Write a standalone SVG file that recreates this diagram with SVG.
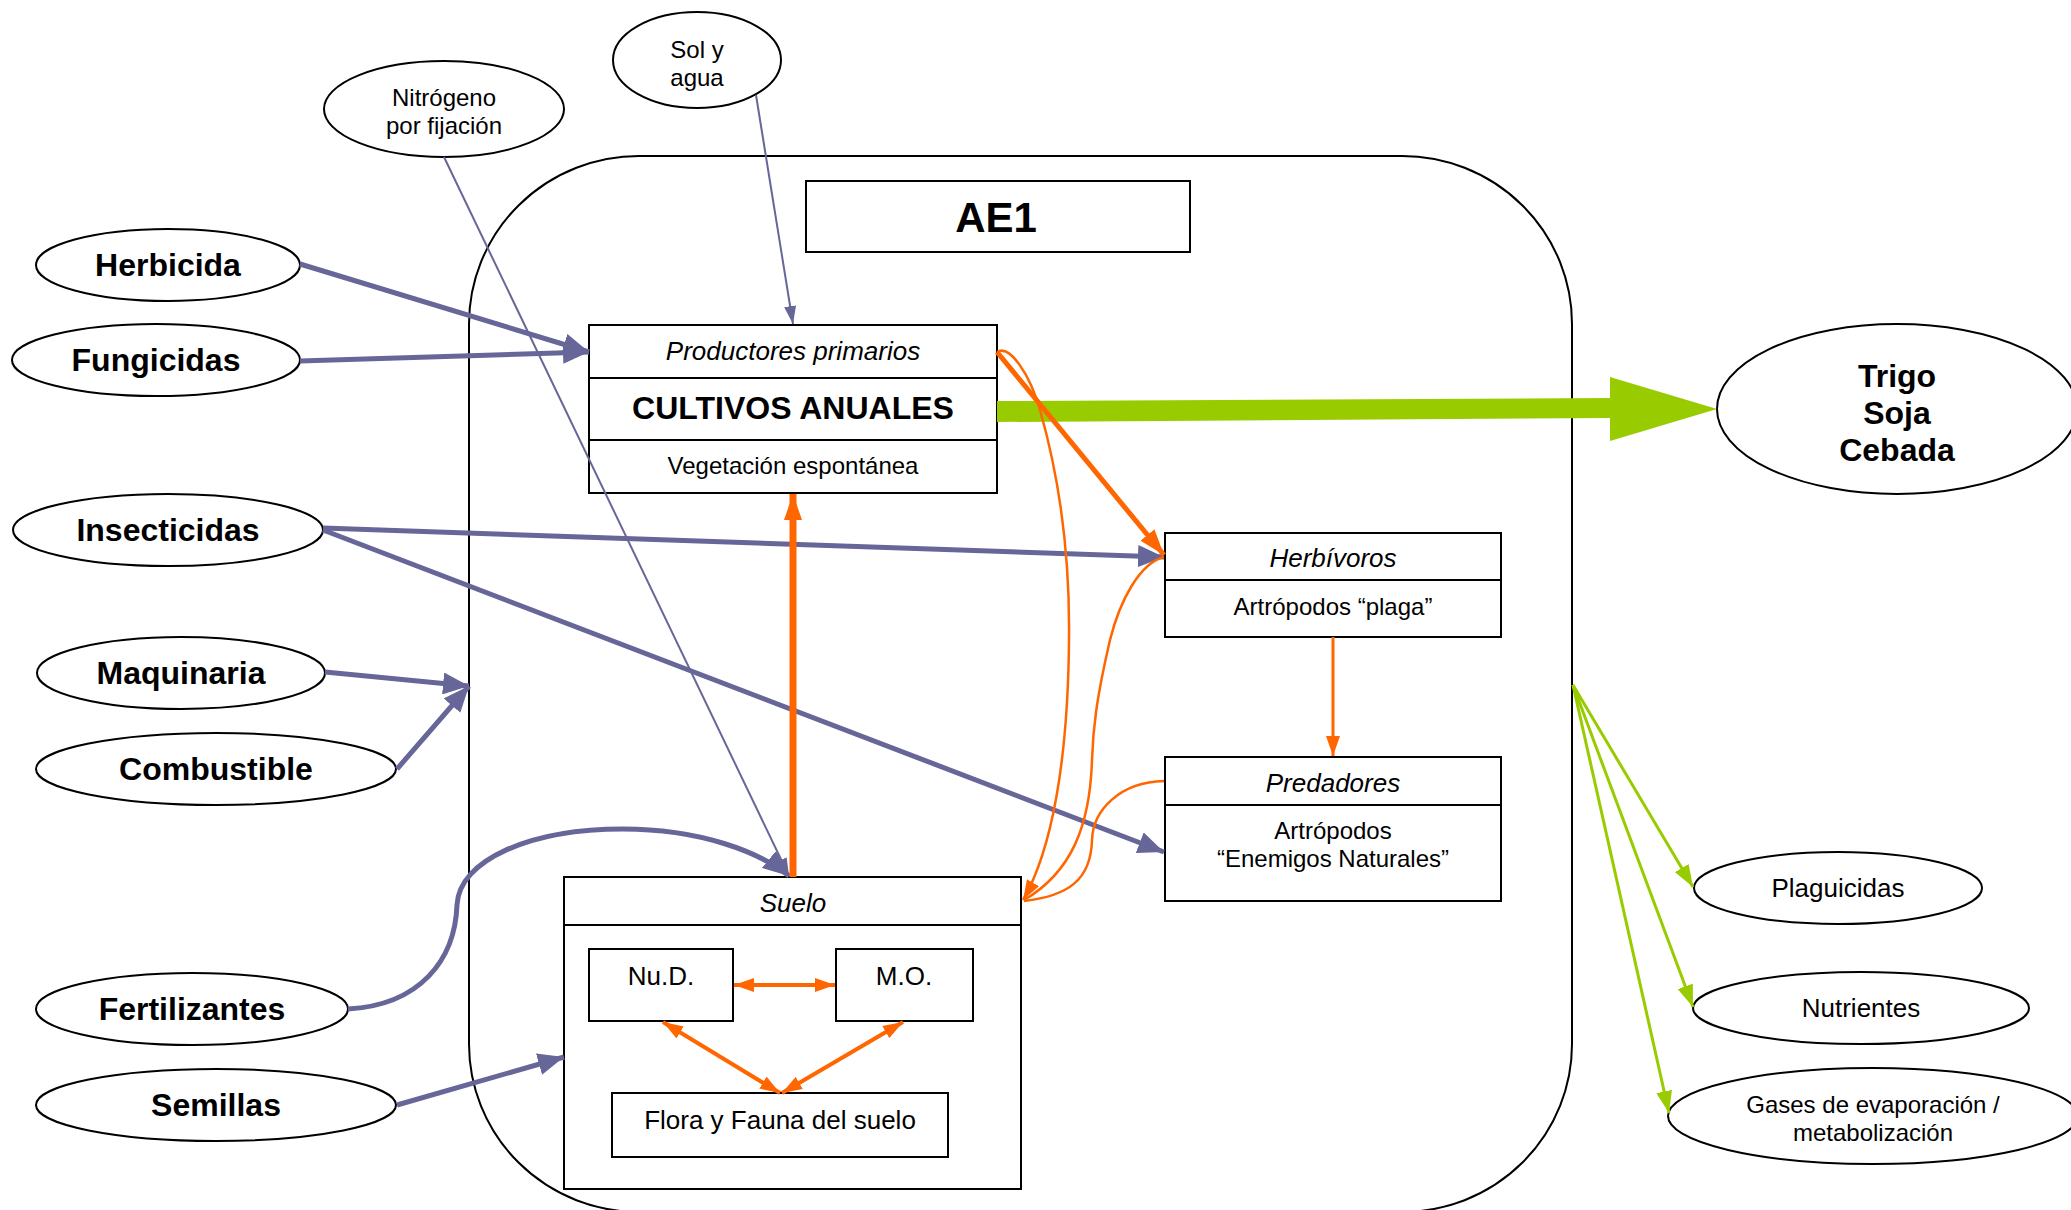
<svg xmlns="http://www.w3.org/2000/svg" width="2071" height="1210" viewBox="0 0 2071 1210">
<style>
text{font-family:"Liberation Sans",Arial,sans-serif;fill:#000;text-anchor:middle;dominant-baseline:central}
.n{fill:#fff;stroke:#000;stroke-width:2}
.b{font-weight:bold;font-size:32px}
.s{font-size:24px}
.m{font-size:26px}
.i{font-style:italic}
.p{fill:none;stroke:#666699;stroke-width:5}
.pt{fill:none;stroke:#666699;stroke-width:2}
.o{fill:none;stroke:#ff6600}
.g{fill:none;stroke:#99cc00;stroke-width:3}
</style>
<defs>
<marker id="pb" markerUnits="userSpaceOnUse" markerWidth="26" markerHeight="22" refX="26" refY="11" orient="auto"><path d="M0,0 L26,11 L0,22 z" fill="#666699"/></marker>
<marker id="ps" markerUnits="userSpaceOnUse" markerWidth="18" markerHeight="12" refX="18" refY="6" orient="auto"><path d="M0,0 L18,6 L0,12 z" fill="#666699"/></marker>
<marker id="ob" markerUnits="userSpaceOnUse" markerWidth="26" markerHeight="18" refX="26" refY="9" orient="auto-start-reverse"><path d="M0,0 L26,9 L0,18 z" fill="#ff6600"/></marker>
<marker id="os" markerUnits="userSpaceOnUse" markerWidth="20" markerHeight="14" refX="20" refY="7" orient="auto-start-reverse"><path d="M0,0 L20,7 L0,14 z" fill="#ff6600"/></marker>
<marker id="gs" markerUnits="userSpaceOnUse" markerWidth="22" markerHeight="16" refX="22" refY="8" orient="auto"><path d="M0,0 L22,8 L0,16 z" fill="#99cc00"/></marker>
</defs>
<rect width="2071" height="1210" fill="#fff"/>
<g id="ae1-system">
<rect x="469" y="156" width="1103" height="1056" rx="170" ry="168" fill="none" stroke="#000" stroke-width="2"/>
</g>
<g id="ae1-title"><rect class="n" x="806" y="181" width="384" height="71"/><text x="996" y="217" style="font-weight:bold;font-size:42px">AE1</text></g>
<g id="sol-agua"><ellipse class="n" cx="697" cy="60" rx="84" ry="48"/><text class="s" x="697" y="49">Sol y</text><text class="s" x="697" y="77">agua</text></g>
<g id="nitrogeno"><ellipse class="n" cx="444" cy="109" rx="120" ry="48"/><text class="s" x="444" y="97">Nitrógeno</text><text class="s" x="444" y="125">por fijación</text></g>
<g id="herbicida"><ellipse class="n" cx="168" cy="265" rx="132" ry="36"/><text class="b" x="168" y="265">Herbicida</text></g>
<g id="fungicidas"><ellipse class="n" cx="156" cy="360" rx="144" ry="36"/><text class="b" x="156" y="360">Fungicidas</text></g>
<g id="insecticidas"><ellipse class="n" cx="168" cy="530" rx="155" ry="36"/><text class="b" x="168" y="530">Insecticidas</text></g>
<g id="maquinaria"><ellipse class="n" cx="181" cy="673" rx="144" ry="36"/><text class="b" x="181" y="673">Maquinaria</text></g>
<g id="combustible"><ellipse class="n" cx="216" cy="769" rx="180" ry="36"/><text class="b" x="216" y="769">Combustible</text></g>
<g id="fertilizantes"><ellipse class="n" cx="192" cy="1009" rx="156" ry="36"/><text class="b" x="192" y="1009">Fertilizantes</text></g>
<g id="semillas"><ellipse class="n" cx="216" cy="1105" rx="180" ry="36"/><text class="b" x="216" y="1105">Semillas</text></g>
<g id="productores"><rect class="n" x="589" y="325" width="408" height="168"/><line x1="589" y1="378" x2="997" y2="378" stroke="#000" stroke-width="2"/><line x1="589" y1="440" x2="997" y2="440" stroke="#000" stroke-width="2"/>
<text class="m i" x="793" y="351">Productores primarios</text><text class="b" x="793" y="408">CULTIVOS ANUALES</text><text class="s" x="793" y="465">Vegetación espontánea</text></g>
<g id="herbivoros"><rect class="n" x="1165" y="533" width="336" height="104"/><line x1="1165" y1="580" x2="1501" y2="580" stroke="#000" stroke-width="2"/>
<text class="m i" x="1333" y="558">Herbívoros</text><text class="s" x="1333" y="606">Artrópodos “plaga”</text></g>
<g id="predadores"><rect class="n" x="1165" y="757" width="336" height="144"/><line x1="1165" y1="805" x2="1501" y2="805" stroke="#000" stroke-width="2"/>
<text class="m i" x="1333" y="783">Predadores</text><text class="s" x="1333" y="830">Artrópodos</text><text class="s" x="1333" y="858">“Enemigos Naturales”</text></g>
<g id="suelo"><rect class="n" x="564" y="877" width="457" height="312"/><line x1="564" y1="925" x2="1021" y2="925" stroke="#000" stroke-width="2"/><text class="m i" x="793" y="903">Suelo</text></g>
<g id="nud"><rect class="n" x="589" y="949" width="144" height="72"/><text class="m" x="661" y="976">Nu.D.</text></g>
<g id="mo"><rect class="n" x="836" y="949" width="137" height="72"/><text class="m" x="904" y="976">M.O.</text></g>
<g id="flora"><rect class="n" x="612" y="1093" width="336" height="64"/><text class="m" x="780" y="1120">Flora y Fauna del suelo</text></g>
<g id="trigo"><ellipse class="n" cx="1897" cy="409" rx="180" ry="85"/><text class="b" x="1897" y="376">Trigo</text><text class="b" x="1897" y="413">Soja</text><text class="b" x="1897" y="450">Cebada</text></g>
<g id="plaguicidas"><ellipse class="n" cx="1838" cy="888" rx="144" ry="36"/><text class="m" x="1838" y="888">Plaguicidas</text></g>
<g id="nutrientes"><ellipse class="n" cx="1861" cy="1008" rx="168" ry="36"/><text class="m" x="1861" y="1008">Nutrientes</text></g>
<g id="gases"><ellipse class="n" cx="1873" cy="1116" rx="205" ry="48"/><text class="s" x="1873" y="1104">Gases de evaporación /</text><text class="s" x="1873" y="1132">metabolización</text></g>
<g id="connectors">
<path class="p" d="M300,264 L589,352" marker-end="url(#pb)"/>
<path class="p" d="M300,361 L589,352" marker-end="url(#pb)"/>
<path class="p" d="M323,528 L1164,557" marker-end="url(#pb)"/>
<path class="p" d="M323,530 L1164,852" marker-end="url(#pb)"/>
<path class="p" d="M325,672 L469,686" marker-end="url(#pb)"/>
<path class="p" d="M397,769 L469,686" marker-end="url(#pb)"/>
<path class="p" d="M348,1009 C420,1005 455,960 457,905 C459,860 530,829 623,829 C700,829 760,852 789,876" marker-end="url(#pb)"/>
<path class="p" d="M397,1105 L564,1057" marker-end="url(#pb)"/>
<path class="pt" d="M444,157 L789,876" marker-end="url(#ps)"/>
<path class="pt" d="M756,95 L793,324" marker-end="url(#ps)"/>
<polygon points="997,401 1610,398 1610,377 1717,409 1610,441 1610,418 997,422" fill="#99cc00"/>
<path class="g" d="M1573,685 L1693,887" marker-end="url(#gs)"/>
<path class="g" d="M1573,685 L1693,1007" marker-end="url(#gs)"/>
<path class="g" d="M1573,685 L1669,1113" marker-end="url(#gs)"/>
<path class="o" stroke-width="7" d="M793,877 L793,494" marker-end="url(#ob)"/>
<path class="o" stroke-width="5" d="M997,352 L1164,555" marker-end="url(#ob)"/>
<path class="o" stroke-width="3" d="M1333,637 L1333,756" marker-end="url(#os)"/>
<path class="o" stroke-width="2.5" d="M997,352 C1010,344 1030,375 1040,410 C1060,480 1070,560 1069,640 C1068,760 1052,850 1023,900" marker-end="url(#os)"/>
<path class="o" stroke-width="2.5" d="M1164,557 C1140,563 1120,600 1110,640 C1096,700 1093,730 1092,760 C1090,825 1072,872 1024,900"/>
<path class="o" stroke-width="2.5" d="M1164,781 C1120,782 1093,810 1092,840 C1091,880 1068,896 1024,901"/>
<path class="o" stroke-width="4" d="M734,985 L835,985" marker-start="url(#os)" marker-end="url(#os)"/>
<path class="o" stroke-width="4" d="M663,1022 L780,1093" marker-start="url(#os)" marker-end="url(#os)"/>
<path class="o" stroke-width="4" d="M903,1022 L782,1093" marker-start="url(#os)" marker-end="url(#os)"/>
</g>
</svg>
